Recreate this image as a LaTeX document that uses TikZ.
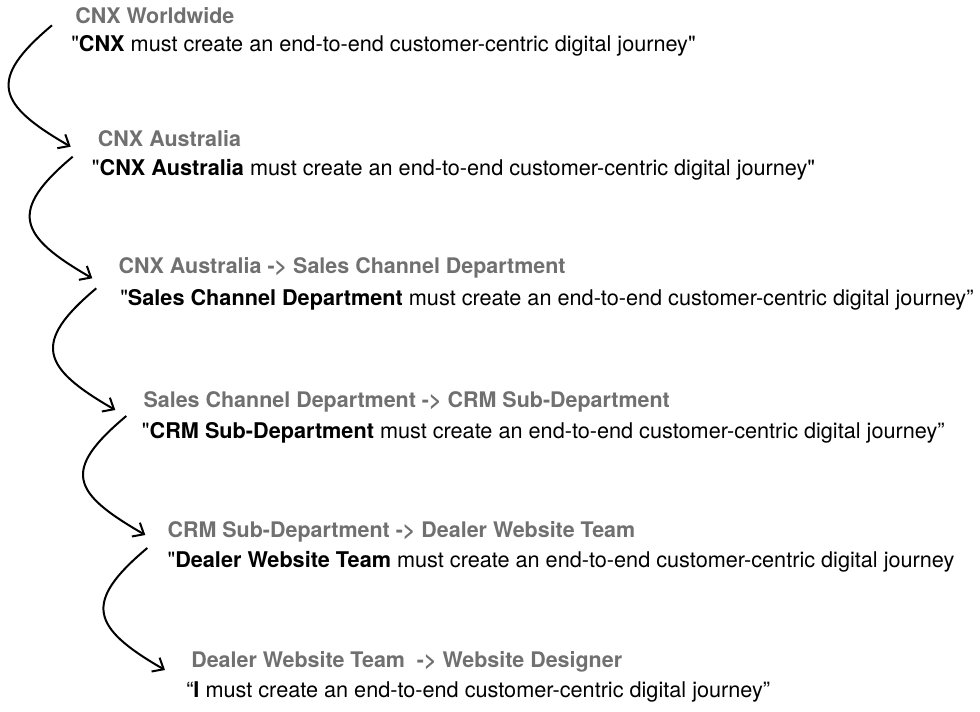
\documentclass[tikz,border=0pt]{standalone}
\usepackage{fontspec}
\setmainfont{TeX Gyre Heros}[Ligatures=TeXOff]
\usetikzlibrary{arrows.meta}
\definecolor{titlegray}{RGB}{112,112,112}
\tikzset{
  ttl/.style={anchor=base west, inner sep=0pt, text=titlegray, font=\fontsize{16.1}{19}\selectfont\bfseries},
  quote/.style={anchor=base west, inner sep=0pt, text=black, font=\fontsize{16.25}{19}\selectfont},
  flow/.style={line width=1.5pt, -{Straight Barb[length=7pt,width=12pt,line width=1.5pt]}}
}
\begin{document}
\begin{tikzpicture}[x=0.75pt,y=0.75pt]
\useasboundingbox (0,0) rectangle (980,-711);
% levels
\node[ttl] (world) at (75,-23.3) {CNX Worldwide};
\node[quote] (worldq) at (71,-51) {"\textbf{CNX} must create an end-to-end customer-centric digital journey"};
\node[ttl] (aus) at (97.7,-146.7) {CNX Australia};
\node[quote] (ausq) at (91.7,-175) {"\textbf{CNX Australia} must create an end-to-end customer-centric digital journey"};
\node[ttl] (sales) at (118.3,-273.3) {CNX Australia -> Sales Channel Department};
\node[quote] (salesq) at (120,-305) {"\textbf{Sales Channel Department} must create an end-to-end customer-centric digital journey”};
\node[ttl] (crm) at (143.3,-407) {Sales Channel Department -> CRM Sub-Department};
\node[quote] (crmq) at (141.7,-438) {"\textbf{CRM Sub-Department} must create an end-to-end customer-centric digital journey”};
\node[ttl] (dealer) at (167.3,-537) {CRM Sub-Department -> Dealer Website Team};
\node[quote] (dealerq) at (167.3,-567) {"\textbf{Dealer Website Team} must create an end-to-end customer-centric digital journey};
\node[ttl] (me) at (191,-667) {Dealer Website Team\ \ -> Website Designer};
\node[quote] (meq) at (186,-697) {“\textbf{I} must create an end-to-end customer-centric digital journey”};
% arrows
\draw[flow] ([shift={(-23,-2)}]world.base west) .. controls +(220:85) and +(150:85) .. ([shift={(-27,0)}]aus.base west);
\draw[flow] ([shift={(-25,-10)}]aus.base west) .. controls +(220:85) and +(150:85) .. ([shift={(-26,-5)}]sales.base west);
\draw[flow] ([shift={(-22,-15)}]sales.base west) .. controls +(220:85) and +(150:85) .. ([shift={(-28,-3)}]crm.base west);
\draw[flow] ([shift={(-17,-9)}]crm.base west) .. controls +(220:85) and +(150:85) .. ([shift={(-22,2)}]dealer.base west);
\draw[flow] ([shift={(-20,-11)}]dealer.base west) .. controls +(220:85) and +(150:85) .. ([shift={(-26,-3)}]me.base west);
\end{tikzpicture}
\end{document}
